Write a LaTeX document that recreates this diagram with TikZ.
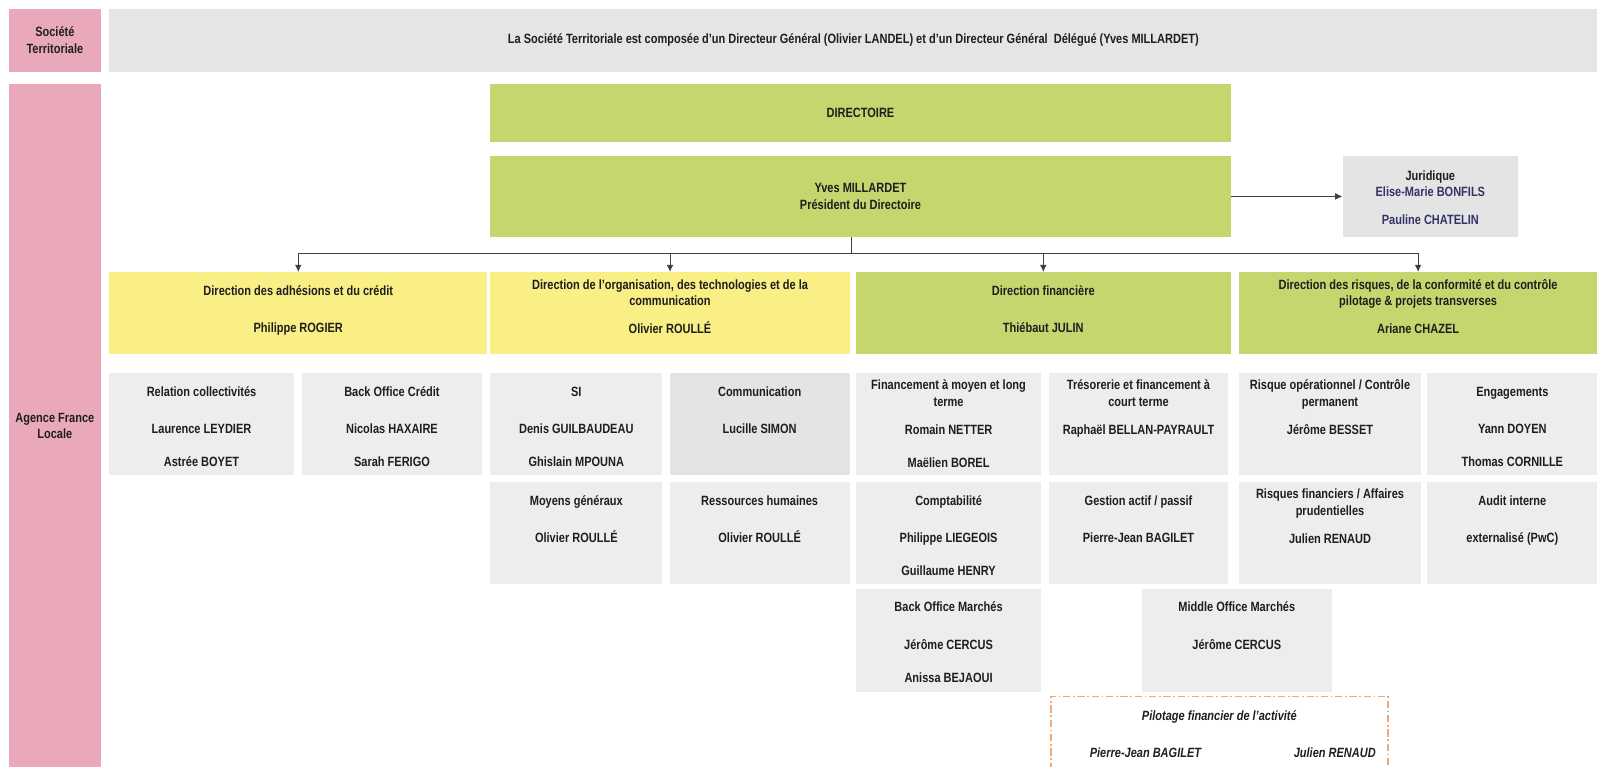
\documentclass[tikz,border=0pt]{standalone}
\usepackage{fontspec}
\setmainfont{Liberation Sans}[FakeStretch=0.82]
\usetikzlibrary{arrows.meta}

\definecolor{afpink}{HTML}{EAA9BB}
\definecolor{bandgrey}{HTML}{E5E5E5}
\definecolor{afgreen}{HTML}{C6D66F}
\definecolor{afyellow}{HTML}{F9EF85}
\definecolor{unitgrey}{HTML}{EDEDED}
\definecolor{comgrey}{HTML}{E4E4E4}
\definecolor{jurblue}{HTML}{33336B}
\definecolor{linkgrey}{HTML}{404040}
\definecolor{pilotorange}{HTML}{F0A875}
\definecolor{ink}{HTML}{1E1E1E}

% box: name, style, x1, y1, x2, y2, vertical pos (t/c), text
\newcommand\orgbox[8]{%
  \pgfmathsetlengthmacro\bw{(#5-#3)*0.02cm}%
  \pgfmathsetlengthmacro\bh{(#6-#4)*0.02cm}%
  \node[#2, anchor=north west, minimum width=\bw, minimum height=\bh] (#1) at (#3,#4)
    {\parbox[c][\bh][#7]{\bw}{\centering #8}};}

\newcommand\hdone{\rule{0pt}{12.8pt}}
\newcommand\hdtwo{\rule{0pt}{9.4pt}}
\newcommand\aftone{\\[11.9pt]}
\newcommand\afttwo{\\[6.8pt]}
\newcommand\nxt{\\[9.1pt]}

\tikzset{
  pinkbox/.style={fill=afpink},
  bandbox/.style={fill=bandgrey},
  greenbox/.style={fill=afgreen},
  yellowbox/.style={fill=afyellow},
  unitbox/.style={fill=unitgrey},
  combox/.style={fill=comgrey},
  pilotbox/.style={draw=pilotorange, line width=0.8pt,
    dash pattern=on 4pt off 1.5pt on 1pt off 1.5pt},
  link/.style={draw=linkgrey, line width=0.5pt},
  linkarrow/.style={link, -{Latex[length=4pt,width=3.8pt]}}
}

\begin{document}
\begin{tikzpicture}[x=0.02cm, y=-0.02cm,
  every node/.style={font=\fontsize{7.5}{9.1}\selectfont\bfseries, text=ink, inner sep=0pt}]
\useasboundingbox (0,0) rectangle (1568,753);

% societe territoriale
\orgbox{st}{pinkbox}{8}{8}{99}{70}{c}{Société\\Territoriale}
\orgbox{stinfo}{bandbox}{107}{8}{1568}{70}{c}{La Société Territoriale est composée d'un Directeur Général (Olivier LANDEL) et d'un Directeur Général \ Délégué (Yves MILLARDET)}

% agence france locale
\orgbox{afl}{pinkbox}{8}{82}{99}{760}{t}{\rule{0pt}{189pt}Agence France\\Locale}

\orgbox{directoire}{greenbox}{481}{82}{1208}{139}{c}{DIRECTOIRE}
\orgbox{pres}{greenbox}{481}{153}{1208}{232}{c}{Yves MILLARDET\\Président du Directoire}
\orgbox{jur}{combox}{1318}{153}{1490}{232}{t}{\rule{0pt}{13.4pt}Juridique\\{\color{jurblue}Elise-Marie BONFILS}\\[6.3pt]{\color{jurblue}Pauline CHATELIN}}

% directions
\orgbox{dadh}{yellowbox}{107}{267}{478}{347}{t}{\hdone Direction des adhésions et du crédit\aftone Philippe ROGIER}
\orgbox{dorg}{yellowbox}{481}{267}{834}{347}{t}{\hdtwo Direction de l'organisation, des technologies et de la\\communication\afttwo Olivier ROULLÉ}
\orgbox{dfin}{greenbox}{840}{267}{1208}{347}{t}{\hdone Direction financière\aftone Thiébaut JULIN}
\orgbox{drisk}{greenbox}{1216}{267}{1568}{347}{t}{\hdtwo Direction des risques, de la conformité et du contrôle\\pilotage \& projets transverses\afttwo Ariane CHAZEL}

% services, 1st row
\orgbox{rel}{unitbox}{107}{366}{288}{466}{t}{\hdone Relation collectivités\aftone Laurence LEYDIER\nxt Astrée BOYET}
\orgbox{boc}{unitbox}{296}{366}{473}{466}{t}{\hdone Back Office Crédit\aftone Nicolas HAXAIRE\nxt Sarah FERIGO}
\orgbox{si}{unitbox}{481}{366}{650}{466}{t}{\hdone SI\aftone Denis GUILBAUDEAU\nxt Ghislain MPOUNA}
\orgbox{com}{combox}{657}{366}{834}{466}{t}{\hdone Communication\aftone Lucille SIMON}
\orgbox{fml}{unitbox}{840}{366}{1022}{466}{t}{\hdtwo Financement à moyen et long\\terme\afttwo Romain NETTER\nxt Maëlien BOREL}
\orgbox{tre}{unitbox}{1030}{366}{1205}{466}{t}{\hdtwo Trésorerie et financement à\\court terme\afttwo Raphaël BELLAN-PAYRAULT}
\orgbox{rop}{unitbox}{1216}{366}{1395}{466}{t}{\hdtwo Risque opérationnel / Contrôle\\permanent\afttwo Jérôme BESSET}
\orgbox{eng}{unitbox}{1401}{366}{1568}{466}{t}{\hdone Engagements\aftone Yann DOYEN\nxt Thomas CORNILLE}

% services, 2nd row
\orgbox{mg}{unitbox}{481}{473}{650}{573}{t}{\hdone Moyens généraux\aftone Olivier ROULLÉ}
\orgbox{rh}{unitbox}{657}{473}{834}{573}{t}{\hdone Ressources humaines\aftone Olivier ROULLÉ}
\orgbox{cpt}{unitbox}{840}{473}{1022}{573}{t}{\hdone Comptabilité\aftone Philippe LIEGEOIS\nxt Guillaume HENRY}
\orgbox{alm}{unitbox}{1030}{473}{1205}{573}{t}{\hdone Gestion actif / passif\aftone Pierre-Jean BAGILET}
\orgbox{rfi}{unitbox}{1216}{473}{1395}{573}{t}{\hdtwo Risques financiers / Affaires\\prudentielles\afttwo Julien RENAUD}
\orgbox{aud}{unitbox}{1401}{473}{1568}{573}{t}{\hdone Audit interne\aftone externalisé (PwC)}

% services, 3rd row
\orgbox{bom}{unitbox}{840}{578}{1022}{679}{t}{\hdone Back Office Marchés\aftone Jérôme CERCUS\nxt Anissa BEJAOUI}
\orgbox{mom}{unitbox}{1121}{578}{1307}{679}{t}{\hdone Middle Office Marchés\aftone Jérôme CERCUS}

% pilotage
\orgbox{pilot}{pilotbox}{1031}{683}{1362}{757}{t}{\itshape\rule{0pt}{13.4pt}Pilotage financier de l'activité\aftone
  \makebox[105.8pt]{Pierre-Jean BAGILET}\makebox[105.8pt]{Julien RENAUD}}

% liens
\draw[linkarrow] (pres.east) -- (jur.west);
\draw[link] ([xshift=-0.18cm]pres.south) -- ++(0,16) coordinate (split);
\foreach \d in {dadh,dorg,dfin,drisk}
  \draw[linkarrow] (split) -| (\d.north);
\end{tikzpicture}
\end{document}
